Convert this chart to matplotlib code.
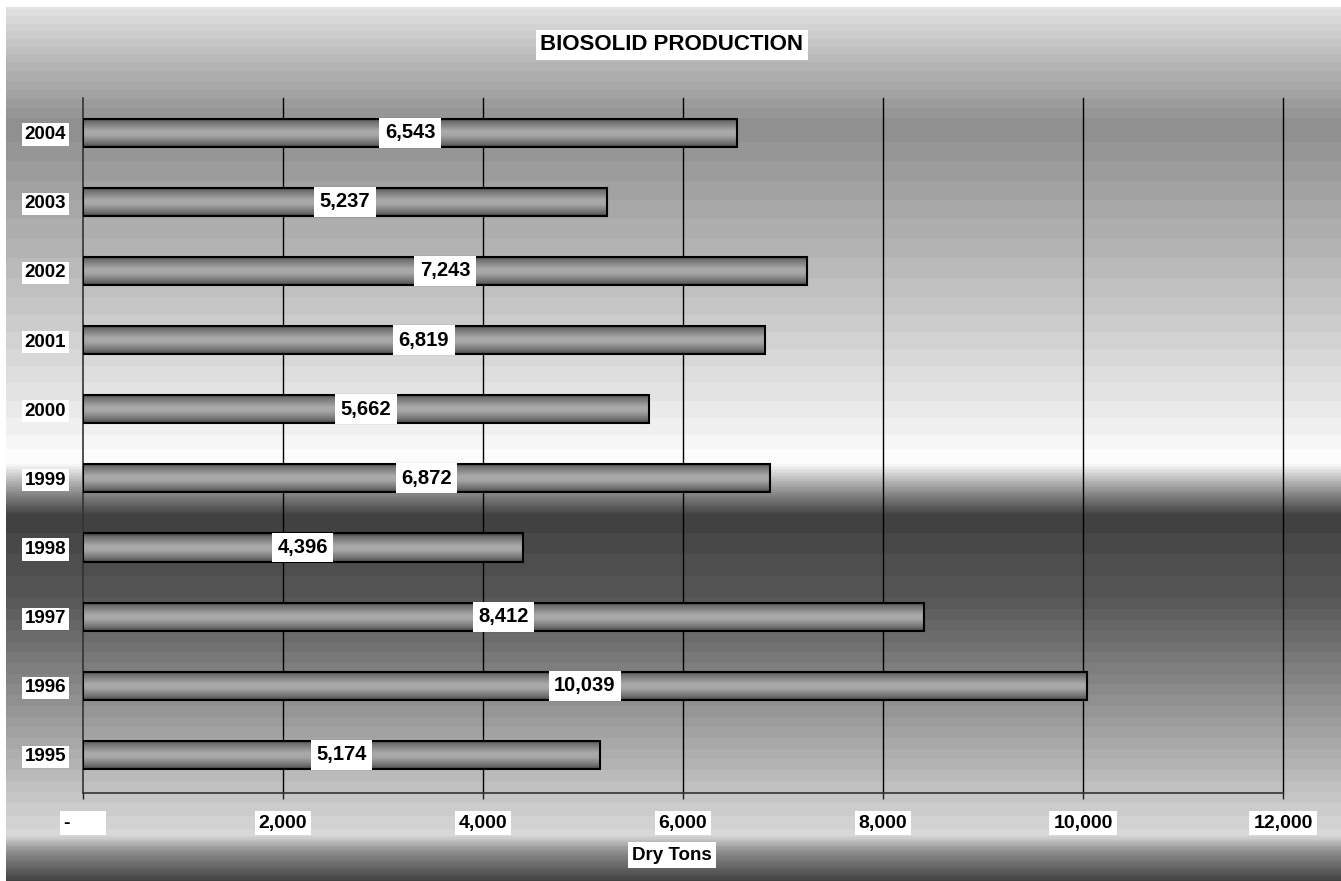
import numpy as np
import matplotlib
matplotlib.use("Agg")
import matplotlib.pyplot as plt
from matplotlib.patches import Rectangle

plt.rcParams['font.family'] = ['Liberation Sans', 'DejaVu Sans']

# Annual biosolid production, dry tons
years = ['1995', '1996', '1997', '1998', '1999', '2000', '2001', '2002', '2003', '2004']
dry_tons = [5174, 10039, 8412, 4396, 6872, 5662, 6819, 7243, 5237, 6543]
x_ticks = [0, 2000, 4000, 6000, 8000, 10000, 12000]
x_tick_labels = ['-      ', '2,000', '4,000', '6,000', '8,000', '10,000', '12,000']

W, H = 1341, 881
fig = plt.figure(figsize=(W / 100, H / 100), dpi=100)
fig.patch.set_facecolor('white')

# banded grey backdrop for the whole chart area
bg = fig.add_axes([6 / W, 0, 1 - 6 / W, 1 - 7 / H])
rows = np.arange(7, H)
stops_y = [7, 60, 125, 300, 440, 462, 480, 500, 515, 600, 700, 800, 835, 850, 881]
stops_v = [0xE2, 0xB8, 0x8E, 0xC4, 0xF5, 0xFF, 0xB8, 0x70, 0x40, 0x58, 0x90, 0xC8, 0xD8, 0x90, 0x40]
shade = np.interp(rows, stops_y, stops_v)
shade = np.round(shade / 6) * 6 / 255
bg.imshow(np.clip(shade, 0, 1)[:, None], cmap='gray', vmin=0, vmax=1,
          aspect='auto', extent=[0, 1, 0, 1], interpolation='nearest')
bg.set_axis_off()

ax = fig.add_axes([83 / W, (H - 793) / H, 1200 / W, 695 / H])
ax.patch.set_visible(False)
ax.set_xlim(0, 12000)
ax.set_ylim(-0.55, 9.5)

# vertical gridlines
for xv in x_ticks[1:]:
    ax.axvline(xv, color='black', lw=1, zorder=1, clip_on=False)

# bars with a cylinder-like shading
bar_h = 0.405
t = np.linspace(0, 1, 40)
prof = np.interp(t, [0, 0.12, 0.45, 0.6, 0.88, 1], [0x3C, 0x70, 0xAA, 0xA6, 0x70, 0x48]) / 255
for i, v in enumerate(dry_tons):
    ax.imshow(prof[:, None], cmap='gray', vmin=0, vmax=1, aspect='auto',
              extent=[0, v, i - bar_h / 2, i + bar_h / 2], zorder=2,
              interpolation='bilinear')
    ax.add_patch(Rectangle((0, i - bar_h / 2), v, bar_h, facecolor='none',
                           edgecolor='black', lw=1.5, zorder=3))
    ax.text(v / 2, i, f'{v:,}', ha='center', va='center', fontsize=14.5,
            fontweight='bold', zorder=4,
            bbox=dict(boxstyle='square,pad=0.27', facecolor='white', edgecolor='none'))

ax.set_xlim(0, 12000)
ax.set_ylim(-0.55, 9.5)

ax.set_yticks(range(len(years)))
ax.set_yticklabels(years)
ax.set_xticks(x_ticks)
ax.set_xticklabels(x_tick_labels)
ax.tick_params(axis='y', length=0, pad=12)
ax.tick_params(axis='x', length=4.5, width=1, color='#222222', pad=11, direction='out')
for lbl in ax.get_yticklabels():
    lbl.set_fontsize(13.5)
    lbl.set_fontweight('bold')
    lbl.set_bbox(dict(boxstyle='square,pad=0.14', facecolor='white', edgecolor='none'))
for lbl in ax.get_xticklabels():
    lbl.set_fontsize(14)
    lbl.set_fontweight('bold')
    lbl.set_bbox(dict(boxstyle='square,pad=0.2', facecolor='white', edgecolor='none'))

for side in ['top', 'right']:
    ax.spines[side].set_visible(False)
ax.spines['left'].set_color('#333333')
ax.spines['bottom'].set_color('#333333')
ax.spines['left'].set_linewidth(1.2)
ax.spines['bottom'].set_linewidth(1.2)

fig.text(672 / W, 1 - 45 / H, 'BIOSOLID PRODUCTION', ha='center', va='center',
         fontsize=16, fontweight='bold',
         bbox=dict(boxstyle='square,pad=0.2', facecolor='white', edgecolor='none'))
fig.text(672 / W, 1 - 855 / H, 'Dry Tons', ha='center', va='center',
         fontsize=13.5, fontweight='bold',
         bbox=dict(boxstyle='square,pad=0.22', facecolor='white', edgecolor='none'))

fig.savefig('out.png', dpi=100, facecolor=fig.get_facecolor())
